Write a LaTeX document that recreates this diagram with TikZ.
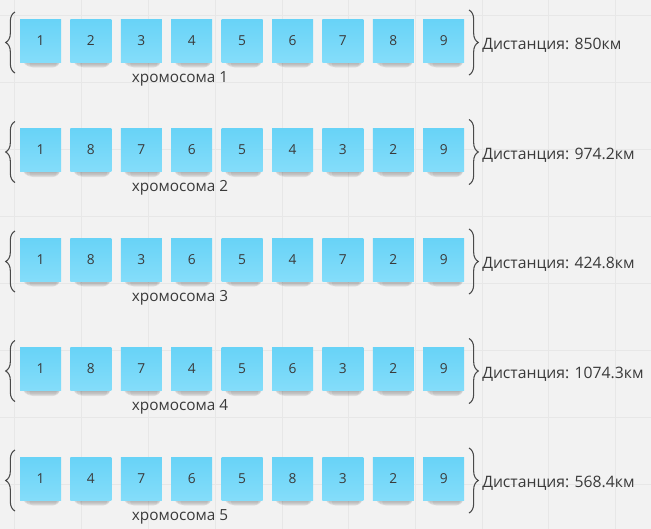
\documentclass[tikz,border=0pt]{standalone}
\usepackage{fontspec}
\setmainfont{Open Sans}
\usetikzlibrary{decorations.pathreplacing}
\definecolor{bg}{HTML}{F2F2F2}
\definecolor{gridc}{HTML}{E7E7E7}
\definecolor{notetop}{HTML}{68D3F7}
\definecolor{notebot}{HTML}{84DDFA}
\definecolor{ink}{HTML}{3A3A3A}
\definecolor{bracec}{HTML}{4A4A4A}
\tikzset{
  notebox/.style={rectangle, inner sep=0pt, minimum width=30.75pt, minimum height=32.25pt,
    top color=notetop, bottom color=notebot, text=ink, font=\fontsize{10.3pt}{12pt}\selectfont},
  notewhisper/.style={fill=black, opacity=0.055, rounded corners=2.5pt},
  chromlabel/.style={anchor=base, text=ink, inner sep=0pt, font=\fontsize{11.5pt}{14pt}\selectfont},
  distlabel/.style={anchor=base west, text=ink, inner sep=0pt, font=\fontsize{11.8pt}{14pt}\selectfont},
  bracepath/.style={draw=bracec, line width=0.8pt, decorate, decoration={brace, amplitude=7pt}},
}
\begin{document}
\begin{tikzpicture}[x=0.75pt,y=-0.75pt]
\fill[bg] (0,0) rectangle (651,529);
\useasboundingbox (0,0) rectangle (651,529);
\foreach \gx in {14,81,148,215,282,348,415,482,548,615}
  \draw[gridc, line width=0.75pt] (\gx,0) -- (\gx,529);
\foreach \gy in {15,82,149,216,283,350,417,484}
  \draw[gridc, line width=0.75pt] (0,\gy) -- (651,\gy);
\foreach \seq/\dist [count=\ri from 0] in {
  {1,2,3,4,5,6,7,8,9}/850,
  {1,8,7,6,5,4,3,2,9}/974.2,
  {1,8,3,6,5,4,7,2,9}/424.8,
  {1,8,7,4,5,6,3,2,9}/1074.3,
  {1,4,7,6,5,8,3,2,9}/568.4}{
  \pgfmathsetmacro\cy{40.5+109.5*\ri}
  \pgfmathtruncatemacro\rn{\ri+1}
  \foreach \v [count=\ci from 0] in \seq {
    \pgfmathsetmacro\cx{40.5+50.4*\ci}
    \fill[notewhisper] (\cx-18,\cy+14) rectangle (\cx+20,\cy+23);
    \fill[notewhisper] (\cx-17,\cy+15) rectangle (\cx+19.5,\cy+24.5);
    \fill[notewhisper] (\cx-16,\cy+16) rectangle (\cx+19,\cy+25.5);
    \fill[notewhisper] (\cx-14,\cy+17) rectangle (\cx+18,\cy+26.5);
    \fill[notewhisper] (\cx-11,\cy+18) rectangle (\cx+16,\cy+27);
    \node[notebox] (n\ri-\ci) at (\cx,\cy) {\v};
  }
  \coordinate (lbt\ri) at (15,\cy-28.5);
  \coordinate (lbb\ri) at (15,\cy+32.5);
  \coordinate (rbt\ri) at (469,\cy-30.5);
  \coordinate (rbb\ri) at (469,\cy+34.5);
  \draw[bracepath] (lbb\ri) -- (lbt\ri);
  \draw[bracepath] (rbt\ri) -- (rbb\ri);
  \node[chromlabel] (c\ri) at (180,\cy+41.5) {хромосома \rn};
  \node[distlabel] (d\ri) at (482,\cy+9) {Дистанция: \dist км};
}
\end{tikzpicture}
\end{document}
